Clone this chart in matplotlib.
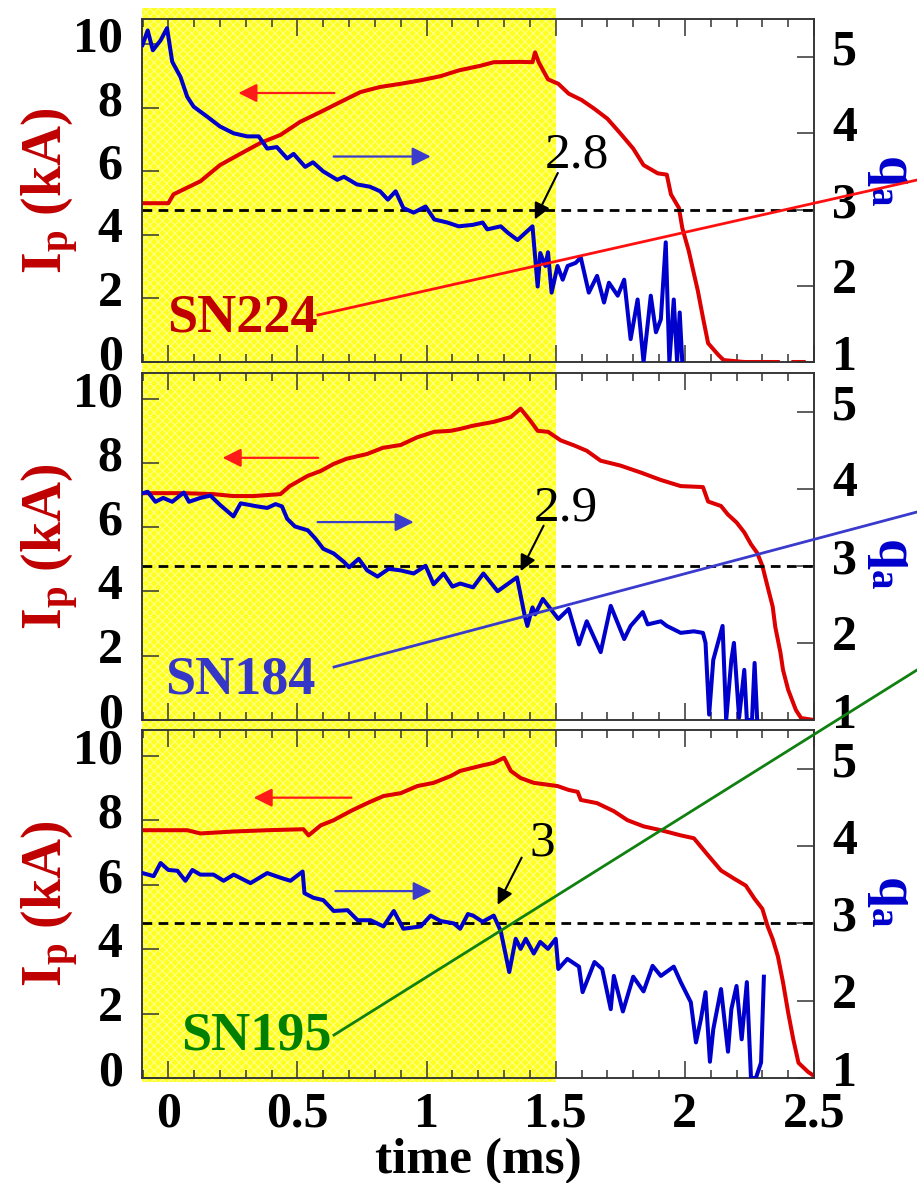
import numpy as np
import matplotlib
matplotlib.use("Agg")
import matplotlib.pyplot as plt
from matplotlib.lines import Line2D
from matplotlib.patches import Rectangle
from matplotlib.ticker import MultipleLocator
import matplotlib.transforms as mtrans

plt.rcParams['font.family'] = ['Liberation Serif', 'DejaVu Serif']
plt.rcParams['mathtext.fontset'] = 'custom'
plt.rcParams['mathtext.rm'] = 'Liberation Serif'
plt.rcParams['mathtext.bf'] = 'Liberation Serif:bold'
plt.rcParams['mathtext.it'] = 'Liberation Serif:italic'
plt.rcParams['hatch.linewidth'] = 0.8

nan = np.nan
# ---------------- data ----------------
shots = ["SN224", "SN184", "SN195"]
shot_colors = ["#c00000", "#3535c8", "#008000"]
q_marks = ["2.8", "2.9", "3"]

t1_ip = [-0.1, 0.0, 0.02, 0.124, 0.2, 0.28, 0.357, 0.434, 0.51, 0.59, 0.667, 0.744, 0.82, 0.9, 0.977, 1.054,
         1.124, 1.21, 1.26, 1.364, 1.41, 1.42, 1.434, 1.47, 1.51, 1.55, 1.6, 1.65, 1.70, 1.75, 1.80, 1.84,
         1.895, 1.93, 1.946, 1.977, 1.99, 2.015, 2.035, 2.05, 2.07, 2.09, 2.13, 2.15, 2.23, 2.29, nan, 2.30,
         2.36, nan, 2.42, 2.46]
ip1 = [5.0, 5.0, 5.28, 5.69, 6.2, 6.56, 6.9, 7.15, 7.56, 7.875, 8.19, 8.5, 8.66, 8.76, 8.87, 9.0,
       9.18, 9.33, 9.44, 9.45, 9.44, 9.75, 9.44, 8.9, 8.76, 8.45, 8.25, 7.97, 7.66, 7.2, 6.72, 6.2,
       5.94, 5.9, 5.28, 4.85, 4.22, 3.5, 2.78, 2.25, 1.4, 0.59, 0.22, 0.06, 0.0, 0.0, nan, 0.0,
       0.0, nan, 0.0, 0.0]
t1_q = [-0.1, -0.08, -0.06, -0.03, -0.005, 0.015, 0.047, 0.073, 0.098, 0.15, 0.2, 0.253, 0.305, 0.35, 0.383,
        0.42, 0.46, 0.485, 0.53, 0.56, 0.6, 0.654, 0.68, 0.73, 0.78, 0.82, 0.85, 0.88, 0.91, 0.95, 0.996,
        1.03, 1.08, 1.124, 1.18, 1.217, 1.235, 1.287, 1.313, 1.352, 1.41, 1.43, 1.44, 1.46, 1.47, 1.484,
        1.507, 1.527, 1.546, 1.577, 1.597, 1.628, 1.66, 1.687, 1.706, 1.74, 1.765, 1.79, 1.817, 1.84, 1.868,
        1.888, 1.907, 1.926, 1.94, 1.957, 1.97, 1.98, 1.99]
q1 = [5.16, 5.35, 5.09, 5.22, 5.38, 4.94, 4.74, 4.48, 4.35, 4.22, 4.09, 4.0, 3.96, 3.96, 3.8,
      3.82, 3.67, 3.73, 3.56, 3.62, 3.5, 3.39, 3.43, 3.33, 3.3, 3.24, 3.13, 3.24, 3.02, 2.96, 3.04,
      2.87, 2.83, 2.78, 2.8, 2.83, 2.74, 2.78, 2.7, 2.6, 2.78, 1.99, 2.43, 2.26, 2.44, 1.91,
      2.26, 2.08, 2.26, 2.3, 2.37, 1.91, 2.13, 1.78, 2.04, 1.87, 2.08, 1.3, 1.82, 1.0, 1.87,
      1.39, 1.56, 2.57, 1.0, 1.82, 1.0, 1.65, 1.0]

t2_ip = [-0.1, 0.06, 0.175, 0.25, 0.33, 0.434, 0.47, 0.54, 0.59, 0.64, 0.69, 0.77, 0.83, 0.9, 0.964, 1.03,
         1.093, 1.13, 1.18, 1.26, 1.326, 1.364, 1.403, 1.43, 1.47, 1.52, 1.57, 1.62, 1.674, 1.75, 1.83,
         1.907, 1.984, 2.07, 2.09, 2.14, 2.166, 2.2, 2.23, 2.256, 2.28, 2.3, 2.32, 2.34, 2.35, 2.37, 2.38,
         2.4, 2.43, 2.45, 2.5]
ip2 = [7.06, 7.06, 7.03, 6.97, 6.97, 7.03, 7.28, 7.6, 7.75, 7.97, 8.13, 8.28, 8.47, 8.56, 8.8, 8.97,
       9.0, 9.06, 9.16, 9.28, 9.43, 9.69, 9.3, 9.0, 8.97, 8.7, 8.55, 8.38, 8.07, 7.92, 7.7,
       7.47, 7.28, 7.25, 6.8, 6.66, 6.4, 6.15, 5.84, 5.47, 5.2, 4.8, 4.16, 3.53, 2.9, 2.1, 1.56,
       0.94, 0.31, 0.06, 0.0]
t2_q = [-0.1, -0.08, -0.05, -0.02, 0.015, 0.06, 0.08, 0.124, 0.163, 0.2, 0.252, 0.28, 0.344, 0.383, 0.415,
        0.44, 0.46, 0.49, 0.54, 0.57, 0.6, 0.64, 0.68, 0.7, 0.737, 0.77, 0.81, 0.853, 0.9, 0.95, 0.996,
        1.027, 1.066, 1.1, 1.13, 1.18, 1.22, 1.275, 1.35, 1.38, 1.39, 1.41, 1.42, 1.45, 1.48, 1.51, 1.55,
        1.59, 1.62, 1.674, 1.713, 1.765, 1.79, 1.837, 1.856, 1.907, 1.93, 1.984, 2.035, 2.07, 2.08, 2.094,
        2.11, 2.146, 2.16, 2.18, 2.19, 2.21, 2.23, 2.24, 2.26, 2.27, 2.28]
q2 = [3.94, 3.96, 3.83, 3.88, 3.83, 3.95, 3.83, 3.88, 3.91, 3.79, 3.64, 3.81, 3.77, 3.75, 3.8,
      3.77, 3.61, 3.51, 3.46, 3.35, 3.22, 3.16, 3.05, 2.98, 3.09, 2.94, 2.86, 2.96, 2.94, 2.9, 3.0,
      2.76, 2.9, 2.73, 2.77, 2.72, 2.9, 2.67, 2.85, 2.35, 2.22, 2.46, 2.37, 2.57, 2.44, 2.31, 2.44,
      1.98, 2.28, 1.88, 2.48, 2.05, 2.22, 2.4, 2.24, 2.28, 2.22, 2.13, 2.15, 2.13, 2.0, 1.07,
      1.78, 2.22, 1.0, 1.78, 2.0, 1.03, 1.65, 1.0, 1.0, 1.74, 1.0]

t3_ip = [-0.1, 0.073, 0.124, 0.253, 0.383, 0.523, 0.543, 0.59, 0.64, 0.705, 0.77, 0.833, 0.9, 0.964, 1.027,
         1.093, 1.13, 1.21, 1.26, 1.3, 1.326, 1.364, 1.415, 1.507, 1.55, 1.585, 1.597, 1.66, 1.725, 1.778,
         1.84, 1.907, 1.984, 2.035, 2.09, 2.14, 2.19, 2.236, 2.27, 2.3, 2.32, 2.34, 2.36, 2.38, 2.4, 2.42,
         2.44, 2.477, 2.506]
ip3 = [7.69, 7.69, 7.59, 7.65, 7.69, 7.72, 7.53, 7.84, 8.0, 8.28, 8.53, 8.75, 8.84, 9.06, 9.16,
       9.37, 9.53, 9.69, 9.78, 9.94, 9.53, 9.31, 9.16, 9.06, 8.94, 8.88, 8.63, 8.53, 8.28, 8.0,
       7.81, 7.69, 7.53, 7.44, 6.91, 6.44, 6.19, 5.97, 5.56, 5.25, 4.72, 4.31, 3.78, 2.97, 2.03, 1.19,
       0.47, 0.19, 0.03]
t3_q = [-0.1, -0.057, -0.03, 0.0, 0.035, 0.066, 0.093, 0.124, 0.175, 0.214, 0.253, 0.318, 0.383, 0.434, 0.473,
        0.52, 0.527, 0.562, 0.6, 0.64, 0.694, 0.733, 0.783, 0.833, 0.873, 0.91, 0.977, 1.016, 1.054, 1.105,
        1.13, 1.16, 1.18, 1.217, 1.26, 1.287, 1.32, 1.345, 1.364, 1.384, 1.415, 1.44, 1.47, 1.5, 1.51,
        1.545, 1.59, 1.604, 1.65, 1.68, 1.713, 1.725, 1.76, 1.8, 1.84, 1.875, 1.907, 1.957, 1.984, 2.023,
        2.043, 2.062, 2.08, 2.097, 2.11, 2.14, 2.167, 2.18, 2.2, 2.22, 2.24, 2.256, 2.275, 2.295, 2.306]
q3 = [3.65, 3.61, 3.78, 3.69, 3.68, 3.55, 3.69, 3.63, 3.63, 3.55, 3.63, 3.52, 3.65, 3.59, 3.55,
      3.67, 3.39, 3.33, 3.3, 3.16, 3.17, 3.04, 3.04, 2.96, 3.16, 2.93, 2.96, 3.1, 3.03, 3.0,
      2.93, 3.12, 3.1, 3.02, 3.1, 2.9, 2.37, 2.8, 2.67, 2.8, 2.61, 2.76, 2.67, 2.8, 2.41,
      2.54, 2.44, 2.11, 2.5, 2.41, 1.89, 2.32, 1.86, 2.31, 2.12, 2.45, 2.32, 2.44, 2.24, 1.98,
      1.46, 1.76, 2.11, 1.21, 1.63, 2.15, 1.34, 1.89, 2.19, 1.5, 2.24, 1.0, 1.0, 1.2, 2.31]

ip_t = [t1_ip, t2_ip, t3_ip]
ip_v = [ip1, ip2, ip3]
q_t = [t1_q, t2_q, t3_q]
q_v = [q1, q2, q3]

q_threshold = 3.0
shade_end = 1.5
x_ticks = [0, 0.5, 1, 1.5, 2, 2.5]
x_ticklabels = ["0", "0.5", "1", "1.5", "2", "2.5"]
ip_ticks = [0, 2, 4, 6, 8, 10]
q_ticks = [1, 2, 3, 4, 5]

# annotation geometry (data coords: time, q)
mark_text_xy = [(1.581, 3.55), (1.539, 3.59), (1.446, 3.88)]
mark_arrow_from = [(1.508, 3.48), (1.453, 3.52), (1.368, 3.85)]
mark_arrow_to = [(1.419, 2.87), (1.364, 2.93), (1.275, 3.24)]
# direction arrows (data coords: time, Ip)
red_arrow = [((0.643, 8.47), (0.271, 8.47)), ((0.58, 8.16), (0.21, 8.16)), ((0.709, 8.70), (0.33, 8.70))]
blue_arrow = [((0.64, 6.47), (1.016, 6.47)), ((0.578, 6.16), (0.95, 6.16)), ((0.647, 5.80), (1.02, 5.80))]

# ---------------- figure ----------------
W, H = 917, 1183
fig = plt.figure(figsize=(W / 100, H / 100), dpi=100)
fig.patch.set_facecolor('white')

ax_left_px, ax_right_px = 142, 814
panels_px = [(19, 362), (373, 720), (730, 1078)]
ylabel_q_center = [180, 563, 901]

RED = '#dd0000'
BLUE = '#0000cc'
SPINE = '#333333'
label_offset = mtrans.ScaledTranslation(0, 10 / 100, fig.dpi_scale_trans)

axes = []
for i, (top, bot) in enumerate(panels_px):
    ax = fig.add_axes([ax_left_px / W, 1 - bot / H, (ax_right_px - ax_left_px) / W, (bot - top) / H])
    ax.set_facecolor('none')
    ax2 = ax.twinx()
    ax2.set_facecolor('none')
    ax.set_xlim(-0.102, 2.5)
    ax.set_ylim(0, 10.8)
    ax2.set_ylim(1, 5.5)

    ax.plot(ip_t[i], ip_v[i], color=RED, lw=2.9, zorder=3)
    ax2.plot(q_t[i], q_v[i], color=BLUE, lw=2.9, zorder=3)
    ax2.axhline(q_threshold, color='k', lw=2.0, ls=(0, (3.5, 2.3)), zorder=2)

    # ticks
    ax.set_xticks(x_ticks)
    ax.xaxis.set_minor_locator(MultipleLocator(0.1))
    ax.set_yticks(ip_ticks)
    ax2.set_yticks(q_ticks)
    ax.tick_params(axis='both', which='major', direction='in', length=12, width=1.1, color=SPINE,
                   top=True, bottom=True, left=True, right=False, labelsize=36, pad=10)
    ax.tick_params(axis='x', which='minor', direction='in', length=6, width=1.1, color=SPINE,
                   top=True, bottom=True)
    ax.tick_params(axis='y', pad=14)
    ax2.tick_params(axis='y', which='major', direction='in', length=12, width=1.1, color=SPINE,
                    labelsize=36, pad=13)
    if i < 2:
        ax.tick_params(axis='x', labelbottom=False)
    else:
        ax.set_xticklabels(x_ticklabels)
        for lab in ax.get_xticklabels():
            lab.set_fontweight('bold')
        ax.set_xlabel('time (ms)', fontsize=37, fontweight='bold', labelpad=0)
    for tk in ax.yaxis.get_major_ticks():
        tk.label1.set_fontweight('bold')
        tk.label1.set_transform(tk.label1.get_transform() + label_offset)
    for tk in ax2.yaxis.get_major_ticks():
        tk.label2.set_fontweight('bold')
        tk.label2.set_transform(tk.label2.get_transform() + label_offset)
    for a in (ax, ax2):
        for s in a.spines.values():
            s.set_color(SPINE)
            s.set_linewidth(1.1)

    # direction arrows
    (x0, y0), (x1, y1) = red_arrow[i]
    ax.annotate('', xy=(x1, y1), xytext=(x0, y0),
                arrowprops=dict(arrowstyle='-|>', color='#ff1a1a', lw=1.6, mutation_scale=28,
                                shrinkA=0, shrinkB=0), zorder=4)
    (x0, y0), (x1, y1) = blue_arrow[i]
    ax.annotate('', xy=(x1, y1), xytext=(x0, y0),
                arrowprops=dict(arrowstyle='-|>', color='#3c3ccc', lw=1.6, mutation_scale=28,
                                shrinkA=0, shrinkB=0), zorder=4)

    # q mark annotation
    tx, ty = mark_text_xy[i]
    ax2.text(tx, ty, q_marks[i], fontsize=37, ha='center', va='baseline', color='k', zorder=6)
    ax2.annotate('', xy=mark_arrow_to[i], xytext=mark_arrow_from[i],
                 arrowprops=dict(arrowstyle='-|>', color='k', lw=1.5, mutation_scale=24,
                                 shrinkA=0, shrinkB=0), zorder=6)

    # axis labels
    cy = (top + bot) / 2
    fig.text(50 / W, 1 - cy / H, r'$\mathbf{I_p}$ (kA)', rotation=90, fontsize=40, fontweight='bold',
             color='#c00000', ha='center', va='center')
    fig.text(891 / W, 1 - ylabel_q_center[i] / H, r'$\mathbf{q_a}$', rotation=-90, fontsize=40,
             color=BLUE, ha='center', va='center')
    axes.append(ax)

# yellow shaded region spanning all panels
blend = mtrans.blended_transform_factory(axes[2].transData, fig.transFigure)
rect = Rectangle((-0.102, 1 - 1082 / H), shade_end + 0.102, (1082 - 8) / H, transform=blend,
                 facecolor='#ffff1e', edgecolor='#ffff8c', hatch='xxxx', lw=0, zorder=-1)
fig.add_artist(rect)

# shot labels with guide lines (figure fraction)
shot_text_xy = [(242 / W, 1 - 332 / H), (240 / W, 1 - 693 / H), (256 / W, 1 - 1050 / H)]
shot_line = [((318 / W, 1 - 315 / H), (1.0, 1 - 180 / H)),
             ((334 / W, 1 - 667 / H), (1.0, 1 - 512 / H)),
             ((334 / W, 1 - 1035 / H), (1.0, 1 - 670 / H))]
for i in range(3):
    fig.text(shot_text_xy[i][0], shot_text_xy[i][1], shots[i], fontsize=39, fontweight='bold',
             color=shot_colors[i], ha='center', va='baseline', zorder=7)
    (a0, b0), (a1, b1) = shot_line[i]
    lc = ['#ff1010', '#3a3acc', '#108010'][i]
    fig.add_artist(Line2D([a0, a1], [b0, b1], transform=fig.transFigure, color=lc, lw=2.0, zorder=7))

fig.savefig('out.png', dpi=100)
